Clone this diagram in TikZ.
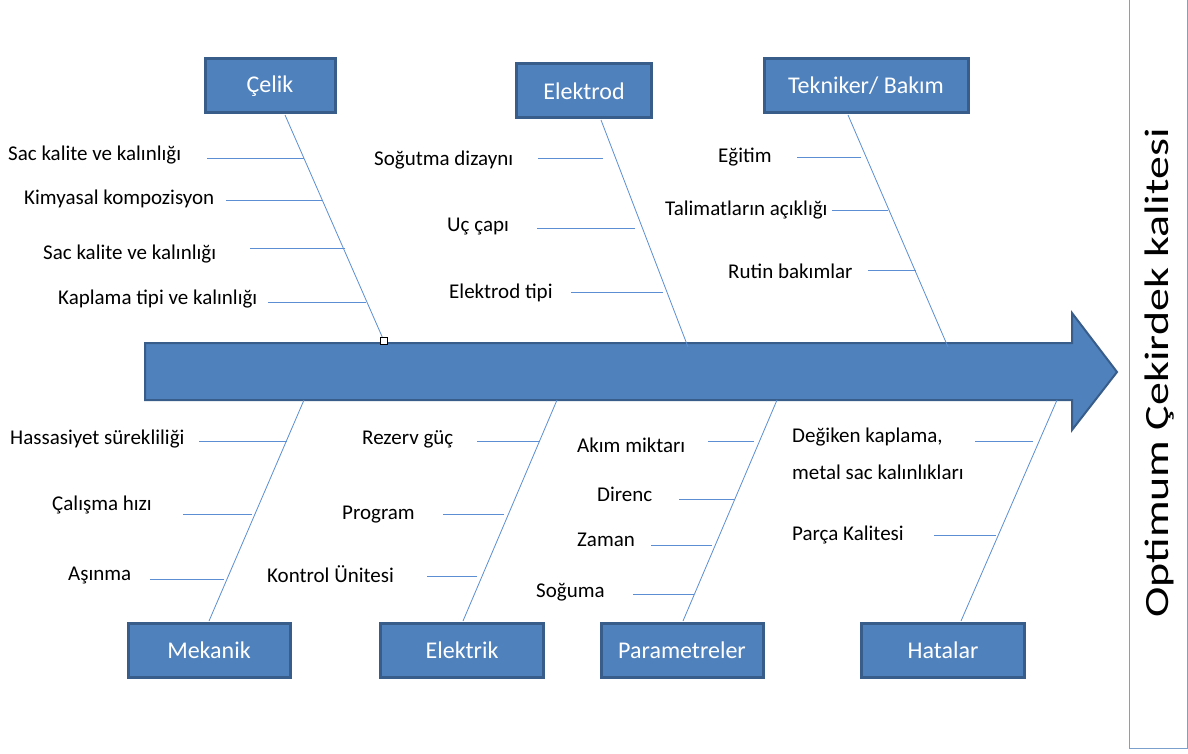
\documentclass[tikz,border=0pt]{standalone}
\usepackage{fontspec}
\setmainfont{Carlito}
\begin{document}
\begin{tikzpicture}[x=1pt,y=-1pt,
  catbox/.style={draw=boxedge,fill=boxfill,line width=3pt,text=white,font=\fontsize{24}{28}\selectfont,inner sep=0pt,minimum height=54pt},
  bone/.style={draw=lineblue,line width=0.8pt},
  lbl/.style={anchor=west,inner sep=0pt,font=\fontsize{21}{25}\selectfont,text=black}]
\definecolor{boxfill}{HTML}{4F81BD}
\definecolor{boxedge}{HTML}{385D8A}
\definecolor{lineblue}{HTML}{5B8ED3}
\definecolor{rbox}{HTML}{7BA0CD}
\useasboundingbox (0,0) rectangle (1188,754);
% big arrow
\draw[fill=boxfill,draw=boxedge,line width=2pt,line join=miter]
  (145,343) -- (1072,343) -- (1072,313) -- (1117,372) -- (1072,430) -- (1072,400) -- (145,400) -- cycle;
% result box
\node[draw=rbox,line width=1pt,minimum width=58pt,minimum height=748pt,inner sep=0pt] (res) at (1158,374) {};
\node[rotate=90,font=\fontsize{34}{40}\selectfont] (restext) at (1160,373) {\scalebox{1.35}[1]{Optimum Çekirdek kalitesi}};
% category boxes
\node[catbox,minimum width=130pt] (celik) at (270,86) {Çelik};
\node[catbox,minimum width=135pt] (elektrod) at (584,91) {Elektrod};
\node[catbox,minimum width=204pt] (tekniker) at (866,86) {Tekniker/ Bakım};
\node[catbox,minimum width=162pt] (mekanik) at (209,650) {Mekanik};
\node[catbox,minimum width=163pt] (elektrik) at (462,650) {Elektrik};
\node[catbox,minimum width=162pt] (param) at (682,650) {Parametreler};
\node[catbox,minimum width=163pt] (hatalar) at (943,650) {Hatalar};
% spine coordinates
\coordinate (c0) at (285,115); \coordinate (c1) at (384,341);
\coordinate (e0) at (601,120); \coordinate (e1) at (688,347);
\coordinate (t0) at (848,115); \coordinate (t1) at (948,347);
\coordinate (m0) at (304,400); \coordinate (m1) at (209,621);
\coordinate (k0) at (557,400); \coordinate (k1) at (463,621);
\coordinate (p0) at (777,400); \coordinate (p1) at (683,621);
\coordinate (h0) at (1057,400); \coordinate (h1) at (961,621);
\draw[bone] (c0) -- (c1);
\draw[bone] (e0) -- (e1);
\draw[bone] (t0) -- (t1);
\draw[bone] (m0) -- (m1);
\draw[bone] (k0) -- (k1);
\draw[bone] (p0) -- (p1);
\draw[bone] (h0) -- (h1);
\node[draw=black,fill=white,line width=0.8pt,minimum size=7pt,inner sep=0pt] (handle) at (384,341) {};
% Celik branches
\node[lbl] (l1) at (8,155) {Sac kalite ve kalınlığı};
\coordinate (a1) at (207,158); \coordinate (b1) at (304,158); \draw[bone] (a1) -- (b1);
\node[lbl] (l2) at (24,199) {Kimyasal kompozisyon};
\coordinate (a2) at (226,200); \coordinate (b2) at (323,200); \draw[bone] (a2) -- (b2);
\node[lbl] (l3) at (43,254) {Sac kalite ve kalınlığı};
\coordinate (a3) at (250,248); \coordinate (b3) at (345,248); \draw[bone] (a3) -- (b3);
\node[lbl] (l4) at (58,299) {Kaplama tipi ve kalınlığı};
\coordinate (a4) at (268,302); \coordinate (b4) at (366,302); \draw[bone] (a4) -- (b4);
% Elektrod branches
\node[lbl] (l5) at (374,160) {Soğutma dizaynı};
\coordinate (a5) at (538,158); \coordinate (b5) at (603,158); \draw[bone] (a5) -- (b5);
\node[lbl] (l6) at (447,227) {Uç çapı};
\coordinate (a6) at (537,228); \coordinate (b6) at (635,228); \draw[bone] (a6) -- (b6);
\node[lbl] (l7) at (449,293) {Elektrod tipi};
\coordinate (a7) at (571,292); \coordinate (b7) at (663,292); \draw[bone] (a7) -- (b7);
% Tekniker branches
\node[lbl] (l8) at (718,157) {Eğitim};
\coordinate (a8) at (797,157); \coordinate (b8) at (861,157); \draw[bone] (a8) -- (b8);
\node[lbl] (l9) at (665,210) {Talimatların açıklığı};
\coordinate (a9) at (832,210); \coordinate (b9) at (888,210); \draw[bone] (a9) -- (b9);
\node[lbl] (l10) at (728,271) {Rutin bakımlar};
\coordinate (a10) at (868,270); \coordinate (b10) at (916,270); \draw[bone] (a10) -- (b10);
% Mekanik branches
\node[lbl] (l11) at (10,439) {Hassasiyet sürekliliği};
\coordinate (a11) at (199,441); \coordinate (b11) at (287,441); \draw[bone] (a11) -- (b11);
\node[lbl] (l12) at (52,505) {Çalışma hızı};
\coordinate (a12) at (183,514); \coordinate (b12) at (252,514); \draw[bone] (a12) -- (b12);
\node[lbl] (l13) at (68,576) {Aşınma};
\coordinate (a13) at (150,579); \coordinate (b13) at (224,579); \draw[bone] (a13) -- (b13);
% Elektrik branches
\node[lbl] (l14) at (362,439) {Rezerv güç};
\coordinate (a14) at (477,441); \coordinate (b14) at (540,441); \draw[bone] (a14) -- (b14);
\node[lbl] (l15) at (342,515) {Program};
\coordinate (a15) at (443,514); \coordinate (b15) at (504,514); \draw[bone] (a15) -- (b15);
\node[lbl] (l16) at (267,574) {Kontrol Ünitesi};
\coordinate (a16) at (427,576); \coordinate (b16) at (477,576); \draw[bone] (a16) -- (b16);
% Parametreler branches
\node[lbl] (l17) at (577,445) {Akım miktarı};
\coordinate (a17) at (708,441); \coordinate (b17) at (754,441); \draw[bone] (a17) -- (b17);
\node[lbl] (l18) at (597,494) {Direnc};
\coordinate (a18) at (679,499); \coordinate (b18) at (735,499); \draw[bone] (a18) -- (b18);
\node[lbl] (l19) at (577,540) {Zaman};
\coordinate (a19) at (651,545); \coordinate (b19) at (712,545); \draw[bone] (a19) -- (b19);
\node[lbl] (l20) at (536,592) {Soğuma};
\coordinate (a20) at (633,594); \coordinate (b20) at (694,594); \draw[bone] (a20) -- (b20);
% Hatalar branches
\node[lbl] (l21) at (792,437) {Değiken kaplama,};
\node[lbl] (l21b) at (792,472) {metal sac kalınlıkları};
\coordinate (a21) at (975,441); \coordinate (b21) at (1033,441); \draw[bone] (a21) -- (b21);
\node[lbl] (l22) at (792,535) {Parça Kalitesi};
\coordinate (a22) at (934,535); \coordinate (b22) at (996,535); \draw[bone] (a22) -- (b22);
\end{tikzpicture}
\end{document}
